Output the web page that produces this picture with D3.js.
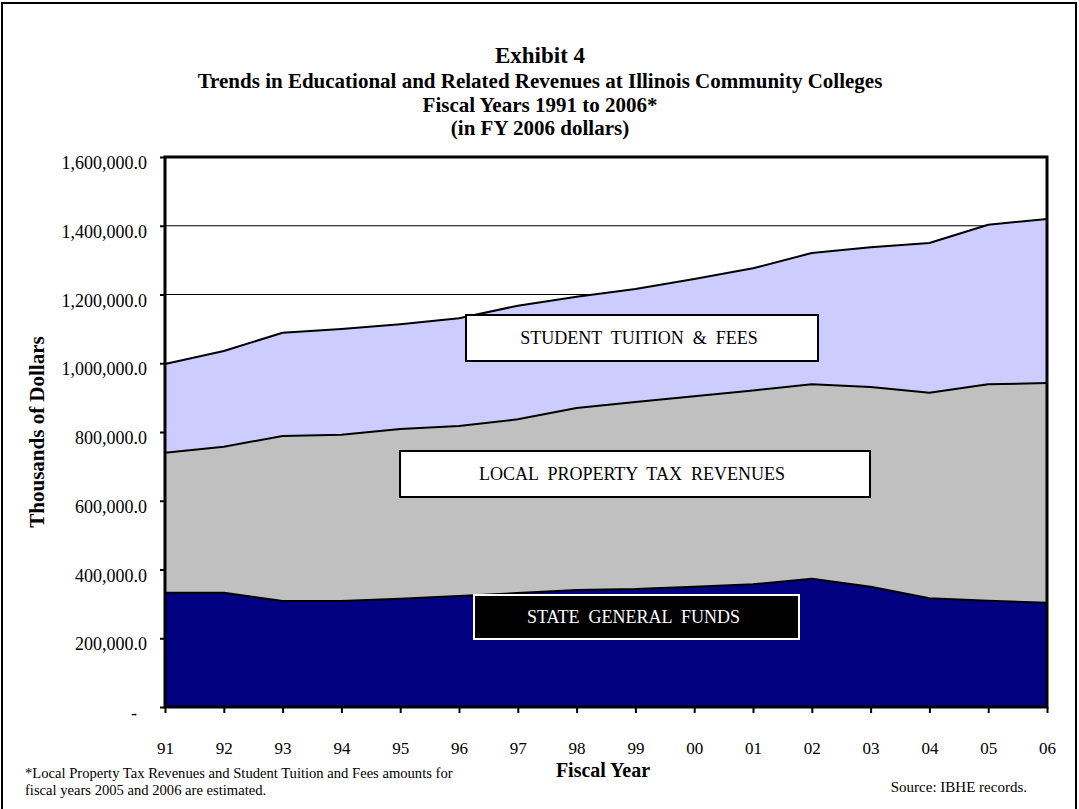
<!DOCTYPE html>
<html>
<head>
<meta charset="utf-8">
<script src="https://cdn.jsdelivr.net/npm/d3@7/dist/d3.min.js"></script>
<style>
  html, body { margin: 0; padding: 0; background: #fff; }
  svg { display: block; font-family: "Liberation Serif", "Times New Roman", serif; }
</style>
</head>
<body>
<svg id="chart" width="1079" height="809"></svg>
<script>
// Fiscal years (two-digit labels) and revenue sources, thousands of FY 2006 dollars
const years = ["91","92","93","94","95","96","97","98","99","00","01","02","03","04","05","06"];
const stateGeneralFunds = [332600, 332600, 308400, 308400, 315200, 322900, 331600, 340400, 343300, 350000, 356900, 373300, 350000, 316200, 309200, 303400];
const localPropertyTax  = [407300, 424700, 480000, 483800, 493500, 494600, 505400, 529600, 543700, 554000, 564100, 565400, 580900, 598200, 629500, 639100];
const tuitionAndFees    = [257900, 278300, 300500, 307400, 304600, 313200, 330400, 323700, 329000, 341100, 355200, 382000, 406300, 435400, 464400, 477100];
const yTicks = [0, 200000, 400000, 600000, 800000, 1000000, 1200000, 1400000, 1600000];

const seriesKeys = ["state", "local", "tuition"];
const seriesFill = { state: "#000080", local: "#C0C0C0", tuition: "#CCCCFF" };

const rows = years.map((yr, i) => ({
  year: yr,
  state: stateGeneralFunds[i],
  local: localPropertyTax[i],
  tuition: tuitionAndFees[i]
}));

const svg = d3.select("#chart");
const plot = { left: 165, right: 1047, top: 157, bottom: 707 };

const x = d3.scalePoint().domain(years).range([plot.left, plot.right]);
const y = d3.scaleLinear().domain([0, 1600000]).range([plot.bottom, plot.top]);

// Outer frame
svg.append("rect")
  .attr("x", 2).attr("y", 3).attr("width", 1074).attr("height", 830)
  .attr("fill", "none").attr("stroke", "#000").attr("stroke-width", 2);

// Titles
const titles = [
  { text: "Exhibit 4", y: 63, size: 23 },
  { text: "Trends in Educational and Related Revenues at Illinois Community Colleges", y: 88, size: 21 },
  { text: "Fiscal Years 1991 to 2006*", y: 112, size: 21 },
  { text: "(in FY 2006 dollars)", y: 135, size: 21 }
];
svg.selectAll("text.title").data(titles).join("text")
  .attr("class", "title")
  .attr("x", 540).attr("y", d => d.y)
  .attr("text-anchor", "middle")
  .attr("font-weight", "bold")
  .attr("font-size", d => d.size)
  .text(d => d.text);

// Gridlines behind the areas
svg.append("g").selectAll("line").data(yTicks.filter(v => v > 0)).join("line")
  .attr("x1", plot.left).attr("x2", plot.right)
  .attr("y1", d => y(d)).attr("y2", d => y(d))
  .attr("stroke", "#000").attr("stroke-width", 1);

// Stacked areas
const stacked = d3.stack().keys(seriesKeys)(rows);
const area = d3.area()
  .x(d => x(d.data.year))
  .y0(d => y(d[0]))
  .y1(d => y(d[1]));
const topLine = d3.line()
  .x(d => x(d.data.year))
  .y(d => y(d[1]));

svg.append("g").selectAll("path").data(stacked).join("path")
  .attr("d", area)
  .attr("fill", d => seriesFill[d.key]);

svg.append("g").selectAll("path").data(stacked).join("path")
  .attr("d", topLine)
  .attr("fill", "none")
  .attr("stroke", "#000")
  .attr("stroke-width", 2)
  .attr("stroke-linejoin", "round");

// Plot frame
svg.append("rect")
  .attr("x", plot.left).attr("y", plot.top)
  .attr("width", plot.right - plot.left).attr("height", plot.bottom - plot.top)
  .attr("fill", "none").attr("stroke", "#000").attr("stroke-width", 3);

// Y axis
const yAxis = d3.axisLeft(y)
  .tickValues(yTicks)
  .tickSize(5)
  .tickPadding(13)
  .tickFormat(v => v === 0 ? "-" : d3.format(",.1f")(v));
const gy = svg.append("g").attr("transform", `translate(${plot.left},0)`).call(yAxis);
gy.select(".domain").remove();
gy.selectAll(".tick line").attr("stroke", "#000").attr("stroke-width", 2);
gy.selectAll(".tick text")
  .attr("font-family", "Liberation Serif, Times New Roman, serif")
  .attr("font-size", 18)
  .attr("fill", "#000")
  .attr("dy", "0.65em")
  .filter(v => v === 0).attr("dx", -10);

// X axis
const xAxis = d3.axisBottom(x).tickSize(6).tickPadding(29);
const gx = svg.append("g").attr("transform", `translate(0,${plot.bottom})`).call(xAxis);
gx.select(".domain").remove();
gx.selectAll(".tick line").attr("stroke", "#000").attr("stroke-width", 2);
gx.selectAll(".tick text")
  .attr("font-family", "Liberation Serif, Times New Roman, serif")
  .attr("font-size", 17)
  .attr("fill", "#000");

// Axis titles
svg.append("text")
  .attr("transform", "translate(44,432) rotate(-90)")
  .attr("text-anchor", "middle")
  .attr("font-weight", "bold")
  .attr("font-size", 21)
  .text("Thousands of Dollars");

svg.append("text")
  .attr("x", 603).attr("y", 777)
  .attr("text-anchor", "middle")
  .attr("font-weight", "bold")
  .attr("font-size", 20)
  .text("Fiscal Year");

// Footnote and source
svg.append("text").attr("x", 25).attr("y", 778).attr("font-size", 14.6)
  .text("*Local Property Tax Revenues and Student Tuition and Fees amounts for");
svg.append("text").attr("x", 25).attr("y", 795).attr("font-size", 14.6)
  .text("fiscal years 2005 and 2006 are estimated.");
svg.append("text").attr("x", 1027).attr("y", 792).attr("font-size", 15)
  .attr("text-anchor", "end")
  .text("Source: IBHE records.");

// Series label boxes
const labels = [
  { text: "STUDENT  TUITION  &  FEES", x0: 466, x1: 818, y0: 315, y1: 361, fill: "#fff", stroke: "#000", color: "#000" },
  { text: "LOCAL  PROPERTY  TAX  REVENUES", x0: 400, x1: 870, y0: 451, y1: 497, fill: "#fff", stroke: "#000", color: "#000" },
  { text: "STATE  GENERAL  FUNDS", x0: 474, x1: 799, y0: 595, y1: 639, fill: "#000", stroke: "#fff", color: "#fff" }
];
const lg = svg.append("g").selectAll("g").data(labels).join("g");
lg.append("rect")
  .attr("x", d => d.x0).attr("y", d => d.y0)
  .attr("width", d => d.x1 - d.x0).attr("height", d => d.y1 - d.y0)
  .attr("fill", d => d.fill).attr("stroke", d => d.stroke).attr("stroke-width", 2);
lg.append("text")
  .attr("x", d => (d.x0 + d.x1) / 2 - 3)
  .attr("y", d => (d.y0 + d.y1) / 2 + 6)
  .attr("text-anchor", "middle")
  .attr("font-size", 18)
  .attr("fill", d => d.color)
  .style("white-space", "pre")
  .text(d => d.text);
</script>
</body>
</html>
